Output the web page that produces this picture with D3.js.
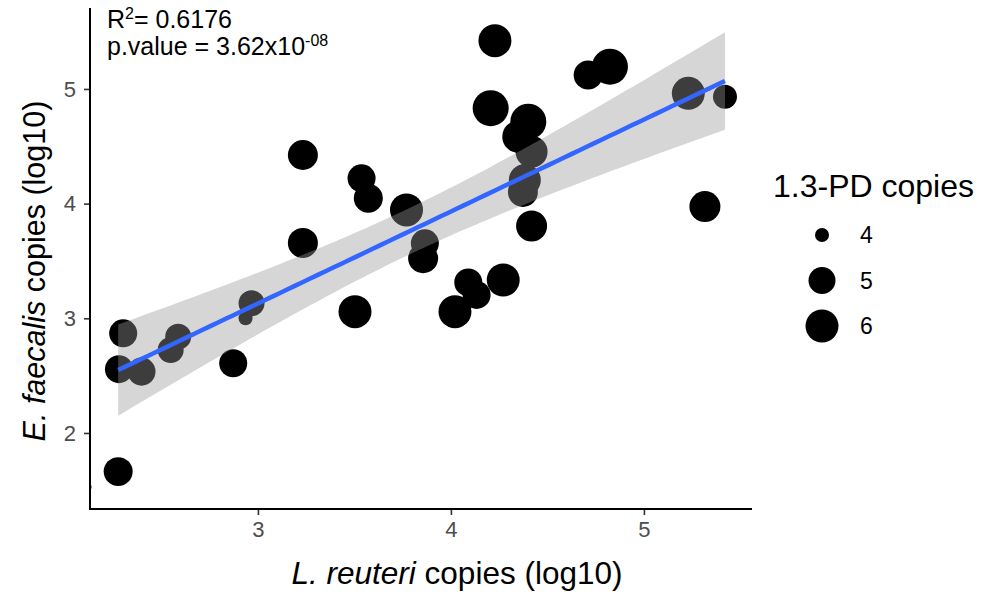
<!DOCTYPE html>
<html>
<head>
<meta charset="utf-8">
<script src="https://cdn.jsdelivr.net/npm/d3@7"></script>
<style>
    body { margin: 0; background: #fff; }
    svg { display: block; font-family: "Liberation Sans", Arial, sans-serif; }
</style>
</head>
<body>
<svg id="chart"></svg>
<script>
// values (log10 copies)
const reuteri = [2.276, 2.302, 2.280, 2.397, 2.548, 2.587, 2.872, 2.967, 2.936, 3.233,
    3.233, 3.503, 3.537, 3.572, 3.770, 3.865, 3.856, 4.021, 4.090, 4.133,
    4.271, 4.228, 4.206, 4.401, 4.349, 4.418, 4.383, 4.373, 4.418, 4.711,
    4.824, 5.230, 5.420, 5.316];
const faecalis = [1.663, 2.869, 2.556, 2.535, 2.724, 2.840, 2.608, 3.131, 3.000, 4.424,
    3.657, 3.058, 4.221, 4.047, 3.945, 3.654, 3.524, 3.058, 3.313, 3.204,
    3.334, 5.421, 4.832, 4.715, 4.584, 4.453, 4.206, 4.102, 3.805, 5.122,
    5.194, 4.962, 4.933, 3.974];
const pdCopies = [5.33, 5.17, 5.17, 5.17, 4.92, 4.92, 5.17, 4.92, 4.0, 5.5,
    5.5, 6.0, 5.17, 5.33, 6.0, 5.17, 5.5, 6.0, 5.17, 5.17,
    6.0, 6.0, 6.5, 6.5, 5.83, 5.83, 5.83, 5.5, 5.67, 5.33,
    6.5, 6.0, 4.77, 5.67];

// lone small point sitting on the y axis (not part of the smooth)
const strayX = [2.122];
const strayY = [1.529];
const straySize = [3.4];

const xTicks = [3, 4, 5];
const yTicks = [2, 3, 4, 5];
const legendBreaks = [4, 5, 6];
const rSquared = '0.6176';
const pMantissa = '3.62x10';
const pExponent = '-08';

class Scatter {
    constructor(_config) {
        this.config = {
            parentElement: _config.parentElement,
            containerWidth: 985,
            containerHeight: 594,
            panel: { left: 90, right: 752, top: 8, bottom: 509 }
        };
        this.data = reuteri.map((x, i) => ({ x: x, y: faecalis[i], size: pdCopies[i] }));
        this.stray = strayX.map((x, i) => ({ x: x, y: strayY[i], size: straySize[i] }));
        this.initVis();
    }

    initVis() {
        let vis = this;
        let p = vis.config.panel;

        vis.xScale = d3.scaleLinear().domain([2.13, 5.56]).range([p.left, p.right]);
        vis.yScale = d3.scaleLinear().domain([1.337, 5.706]).range([p.bottom, p.top]);
        vis.rScale = d3.scaleLinear().domain(legendBreaks).range([7, 13.5, 16.5]);

        vis.svg = d3.select(vis.config.parentElement)
            .attr('width', vis.config.containerWidth)
            .attr('height', vis.config.containerHeight);

        vis.svg.append('clipPath').attr('id', 'panel-clip')
            .append('rect')
            .attr('x', p.left).attr('y', p.top)
            .attr('width', p.right - p.left).attr('height', p.bottom - p.top);

        vis.panel = vis.svg.append('g').attr('clip-path', 'url(#panel-clip)');

        this.fitLine();
        this.renderVis();
    }

    // ordinary least squares with 95% confidence band, like geom_smooth(method = 'lm')
    fitLine() {
        let vis = this;
        let n = vis.data.length;
        let mx = d3.mean(vis.data, d => d.x);
        let my = d3.mean(vis.data, d => d.y);
        let sxx = d3.sum(vis.data, d => (d.x - mx) ** 2);
        let sxy = d3.sum(vis.data, d => (d.x - mx) * (d.y - my));
        let slope = sxy / sxx;
        let intercept = my - slope * mx;
        let sse = d3.sum(vis.data, d => (d.y - intercept - slope * d.x) ** 2);
        let s = Math.sqrt(sse / (n - 2));
        let df = n - 2, z = 1.959964;
        let t = z + (z ** 3 + z) / (4 * df) + (5 * z ** 5 + 16 * z ** 3 + 3 * z) / (96 * df * df);

        let ext = d3.extent(vis.data, d => d.x);
        vis.fit = d3.range(80).map(i => {
            let x = ext[0] + (ext[1] - ext[0]) * i / 79;
            let yhat = intercept + slope * x;
            let se = s * Math.sqrt(1 / n + (x - mx) ** 2 / sxx);
            return { x: x, y: yhat, lo: yhat - t * se, hi: yhat + t * se };
        });
    }

    renderVis() {
        let vis = this;
        let p = vis.config.panel;

        // points first, the ribbon greys them where they overlap
        vis.panel.selectAll('.pt')
            .data(vis.data.concat(vis.stray))
            .join('circle')
            .attr('class', 'pt')
            .attr('cx', d => vis.xScale(d.x))
            .attr('cy', d => vis.yScale(d.y))
            .attr('r', d => vis.rScale(d.size))
            .attr('fill', '#000');

        vis.area = d3.area()
            .x(d => vis.xScale(d.x))
            .y0(d => vis.yScale(d.lo))
            .y1(d => vis.yScale(d.hi));

        vis.panel.append('path')
            .datum(vis.fit)
            .attr('fill', '#999999')
            .attr('fill-opacity', 0.4)
            .attr('d', vis.area);

        vis.line = d3.line()
            .x(d => vis.xScale(d.x))
            .y(d => vis.yScale(d.y));

        vis.panel.append('path')
            .datum(vis.fit)
            .attr('fill', 'none')
            .attr('stroke', '#3366FF')
            .attr('stroke-width', 4.5)
            .attr('d', vis.line);

        // axes
        vis.xAxis = d3.axisBottom(vis.xScale).tickValues(xTicks).tickSize(6).tickPadding(6).tickFormat(d3.format('d'));
        vis.yAxis = d3.axisLeft(vis.yScale).tickValues(yTicks).tickSize(6).tickPadding(8).tickFormat(d3.format('d'));

        vis.xAxisG = vis.svg.append('g')
            .attr('transform', `translate(0,${p.bottom})`)
            .call(vis.xAxis);
        vis.yAxisG = vis.svg.append('g')
            .attr('transform', `translate(${p.left},0)`)
            .call(vis.yAxis);

        [vis.xAxisG, vis.yAxisG].forEach(g => {
            g.attr('font-size', 22).attr('font-family', '"Liberation Sans", Arial, sans-serif');
            g.select('.domain').remove();
            g.selectAll('.tick line').attr('stroke', '#333').attr('stroke-width', 1.6);
            g.selectAll('.tick text').attr('fill', '#4d4d4d').style('font-size', '22px');
        });

        vis.svg.append('path')
            .attr('d', `M${p.left},${p.top}V${p.bottom}H${p.right}`)
            .attr('fill', 'none')
            .attr('stroke', '#000')
            .attr('stroke-width', 2);

        // axis titles
        let xt = vis.svg.append('text')
            .attr('x', 457).attr('y', 584)
            .attr('text-anchor', 'middle')
            .style('font-size', '31.5px');
        xt.append('tspan').style('font-style', 'italic').text('L. reuteri');
        xt.append('tspan').text(' copies (log10)');

        let yt = vis.svg.append('text')
            .attr('transform', 'translate(45,271) rotate(-90)')
            .attr('text-anchor', 'middle')
            .style('font-size', '30.5px');
        yt.append('tspan').style('font-style', 'italic').text('E. faecalis');
        yt.append('tspan').text(' copies (log10)');

        // stats annotation
        let r2 = vis.svg.append('text').attr('x', 107).attr('y', 28).style('font-size', '25px');
        r2.append('tspan').text('R');
        r2.append('tspan').attr('dy', -9).style('font-size', '16px').text('2');
        r2.append('tspan').attr('dy', 9).text('= ' + rSquared);

        let pv = vis.svg.append('text').attr('x', 107).attr('y', 55).style('font-size', '25px');
        pv.append('tspan').text('p.value = ' + pMantissa);
        pv.append('tspan').attr('dy', -9).style('font-size', '16px').text(pExponent);

        // size legend
        vis.svg.append('text')
            .attr('x', 773).attr('y', 197)
            .style('font-size', '32px')
            .text('1.3-PD copies');

        let legendY = d3.scalePoint().domain(legendBreaks).range([235, 326]);
        let keys = vis.svg.selectAll('.key')
            .data(legendBreaks)
            .join('g')
            .attr('class', 'key')
            .attr('transform', d => `translate(822,${legendY(d)})`);
        keys.append('circle').attr('r', d => vis.rScale(d)).attr('fill', '#000');
        keys.append('text')
            .attr('x', 38).attr('dy', '0.36em')
            .style('font-size', '23px')
            .text(d => d);
    }
}

new Scatter({ parentElement: '#chart' });
</script>
</body>
</html>
